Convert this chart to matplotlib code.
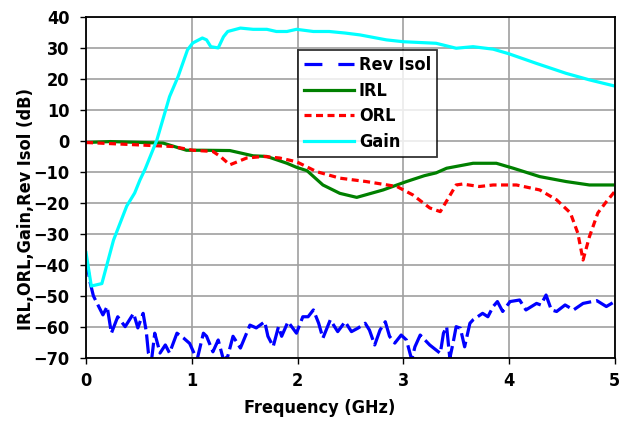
import matplotlib
matplotlib.use("Agg")
import matplotlib.pyplot as plt

# condensed bold face, closest to the original narrow typeface
plt.rcParams["font.family"] = ["DejaVu Sans"]
plt.rcParams["font.stretch"] = "condensed"
plt.rcParams["font.weight"] = "bold"

# Gain (cyan)
gain_f = [0.0, 0.05, 0.15, 0.26, 0.385, 0.46, 0.51, 0.56, 0.67, 0.79, 0.87, 0.96,
          1.01, 1.1, 1.14, 1.18, 1.25, 1.3, 1.34, 1.46, 1.58, 1.71, 1.8, 1.9, 1.99,
          2.15, 2.3, 2.45, 2.59, 2.84, 3.0, 3.31, 3.5, 3.66, 3.85, 4.0, 4.26, 4.54,
          4.76, 5.0]
gain_db = [-36, -46.8, -46, -32, -21, -16.8, -12.6, -9, 0.3, 14.3, 20.7, 29.4,
           31.6, 33.2, 32.6, 30.4, 30, 33.6, 35.3, 36.4, 36, 36, 35.3, 35.3, 36,
           35.3, 35.3, 34.8, 34.2, 32.6, 32, 31.5, 29.9, 30.4, 29.6, 28.1, 25, 21.8,
           19.7, 17.7]

# IRL (green)
irl_f = [0.0, 0.23, 0.73, 0.95, 1.1, 1.36, 1.58, 1.71, 1.9, 1.99, 2.09, 2.24, 2.4,
         2.56, 2.81, 3.03, 3.2, 3.31, 3.41, 3.66, 3.88, 4.04, 4.29, 4.54, 4.76, 4.98]
irl_db = [-0.5, -0.2, -0.7, -3, -3, -3.1, -4.8, -5, -7.2, -8.5, -9.6, -14.2, -16.9,
          -18.2, -15.8, -13.1, -11.2, -10.3, -8.8, -7.2, -7.2, -8.8, -11.5, -13.1,
          -14.2, -14.2]

# ORL (red dashed)
orl_f = [0.0, 0.13, 0.51, 0.82, 1.01, 1.2, 1.27, 1.36, 1.52, 1.68, 1.83, 1.99, 2.18,
         2.4, 2.65, 2.94, 3.09, 3.25, 3.35, 3.5, 3.56, 3.72, 3.85, 4.07, 4.29, 4.45,
         4.58, 4.65, 4.70, 4.76, 4.84, 4.92, 5.0]
orl_db = [-0.5, -0.7, -1.3, -1.8, -3, -3.4, -5, -7.7, -5.5, -5, -5.5, -6.7, -9.9,
          -12, -13.1, -14.7, -17.4, -21.6, -22.8, -14.2, -13.9, -14.7, -14.2, -14.2,
          -15.8, -19, -23.2, -29.7, -38.4, -30.9, -23.2, -19.6, -16.3]

# Rev Isol (blue long dash)
iso_f = [0.0, 0.04, 0.07, 0.12, 0.16, 0.2, 0.24, 0.3, 0.37, 0.45, 0.49, 0.54, 0.57,
         0.59, 0.62, 0.65, 0.70, 0.75, 0.79, 0.86, 0.92, 0.98, 1.05, 1.11, 1.14,
         1.2, 1.25, 1.3, 1.34, 1.39, 1.46, 1.55, 1.61, 1.69, 1.72, 1.77, 1.82, 1.85,
         1.91, 1.99, 2.05, 2.1, 2.15, 2.20, 2.24, 2.31, 2.38, 2.45, 2.51, 2.57,
         2.64, 2.68, 2.73, 2.78, 2.83, 2.87, 2.92, 2.98, 3.03, 3.08, 3.11, 3.16,
         3.25, 3.35, 3.38, 3.41, 3.44, 3.47, 3.5, 3.54, 3.58, 3.63, 3.66, 3.75,
         3.8, 3.85, 3.89, 3.94, 4.01, 4.1, 4.16, 4.26, 4.3, 4.35, 4.4, 4.45, 4.53,
         4.61, 4.70, 4.83, 4.92, 5.0]
iso_db = [-37.7, -45.8, -50, -53.4, -56.1, -53.4, -62, -56.7, -59.9, -55.6, -60.3,
          -55.6, -61.5, -68.4, -70.6, -62, -68.4, -65.8, -68.4, -62, -63.5, -65.3,
          -70.6, -62, -63, -68, -64.2, -70.6, -69.5, -63, -66.8, -59.4, -60.3,
          -58.3, -63, -66.3, -59.9, -63, -58.3, -62, -56.7, -56.7, -54.5, -58.8,
          -63.6, -57.7, -61.5, -58.3, -61.5, -60.4, -58.8, -61, -65.8, -61, -58.3,
          -63, -65.2, -62.6, -64.2, -70.6, -66.4, -62.6, -65.8, -68.5, -62, -59.9,
          -70.1, -65.3, -59.9, -60.4, -66.4, -58.8, -57.7, -55.6, -56.7, -53.4,
          -51.8, -55, -51.8, -51.3, -54.5, -52.4, -52.9, -49.7, -54.5, -55, -52.9,
          -54.5, -52.4, -51.5, -53.4, -51.8]

fig = plt.figure(figsize=(6.21, 4.23), dpi=100)
ax = fig.add_axes([0.1385, 0.1537, 0.8515, 0.8063])

ax.plot(iso_f, iso_db, color="#0000ff", linewidth=2.3, dashes=(6, 1.6),
        label="Rev Isol")
ax.plot(irl_f, irl_db, color="#008000", linewidth=2.3, label="IRL")
ax.plot(orl_f, orl_db, color="#ff0000", linewidth=2.3, dashes=(2.2, 1.4),
        label="ORL")
ax.plot(gain_f, gain_db, color="#00ffff", linewidth=2.3, label="Gain")

ax.set_xlim(0, 5)
ax.set_ylim(-70, 40)
ax.set_xticks(range(0, 6))
ax.set_yticks(range(-70, 41, 10))
ax.grid(True, color="#a0a0a0", linewidth=1.2)
ax.set_axisbelow(True)
for side in ax.spines.values():
    side.set_color("black")
    side.set_linewidth(1.3)
ax.tick_params(direction="out", length=4, width=1, labelsize=13)
ax.tick_params(axis="y", pad=8)
ax.tick_params(axis="x", pad=6)
for lbl in ax.get_xticklabels() + ax.get_yticklabels():
    lbl.set_fontweight("bold")

ax.set_xlabel("Frequency (GHz)", fontsize=13, fontweight="bold")
ax.set_ylabel("IRL,ORL,Gain,Rev Isol (dB)", fontsize=13, fontweight="bold")
ax.xaxis.set_label_coords(0.442, -0.12)
ax.yaxis.set_label_coords(-0.097, 0.437)

leg = ax.legend(loc="upper left", bbox_to_anchor=(0.40, 0.903), borderaxespad=0,
                frameon=True, fancybox=False, edgecolor="black", handlelength=2.8,
                handletextpad=0.25, borderpad=0.35, labelspacing=0.42,
                prop={"weight": "bold", "size": 13, "stretch": "condensed"})
leg.get_frame().set_linewidth(1.3)
# legend sample shows the long dash with wide gaps
leg.get_lines()[0].set_dashes((5.6, 5))

fig.savefig("out.png", dpi=100)
